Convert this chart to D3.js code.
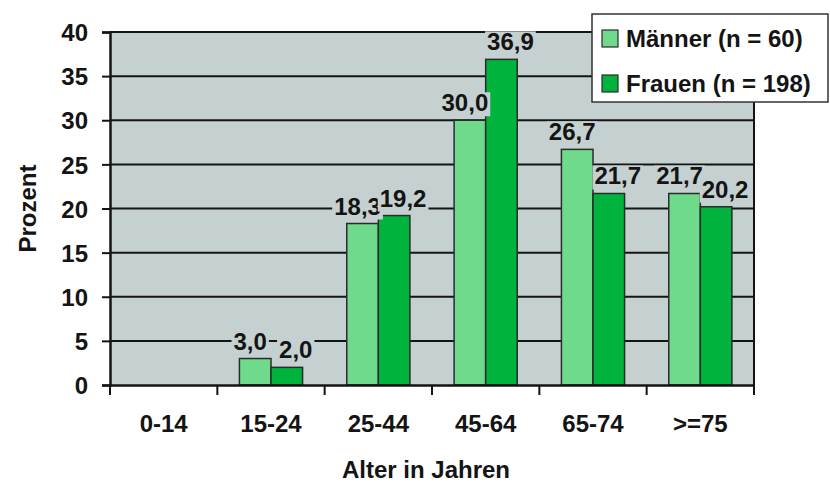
<!DOCTYPE html>
<html>
<head>
<meta charset="utf-8">
<script src="https://cdn.jsdelivr.net/npm/d3@7"></script>
<style>
  html, body { margin: 0; padding: 0; background: #ffffff; }
  svg { display: block; font-family: "Liberation Sans", Arial, sans-serif; font-weight: bold; }
</style>
</head>
<body>
<svg id="chart" width="830" height="484"></svg>
<script>
// Altersverteilung nach Geschlecht (Prozent)
const categories = ["0-14", "15-24", "25-44", "45-64", "65-74", ">=75"];
const maenner = [null, 3.0, 18.3, 30.0, 26.7, 21.7];
const frauen  = [null, 2.0, 19.2, 36.9, 21.7, 20.2];
const seriesNames = ["Männer (n = 60)", "Frauen (n = 198)"];
const yTicks = [0, 5, 10, 15, 20, 25, 30, 35, 40];

const colors = ["#6fda8b", "#00b33c"];
const plotBg = "#c5d1d0";
const ink = "#141414";

const svg = d3.select("#chart");
const m = { left: 110, right: 754, top: 32, bottom: 385 };

const x = d3.scaleBand().domain(categories).range([m.left, m.right]).paddingInner(0).paddingOuter(0);
const inner = d3.scaleBand().domain([0, 1]).range([0, x.bandwidth()]).paddingInner(0).paddingOuter(0.7);
const y = d3.scaleLinear().domain([0, 40]).range([m.bottom, m.top]);

// Plot area
svg.append("rect")
  .attr("x", m.left).attr("y", m.top)
  .attr("width", m.right - m.left).attr("height", m.bottom - m.top)
  .attr("fill", plotBg);

// Horizontal gridlines
svg.append("g").selectAll("line").data(yTicks.filter(d => d > 0)).join("line")
  .attr("x1", m.left).attr("x2", m.right)
  .attr("y1", d => y(d)).attr("y2", d => y(d))
  .attr("stroke", ink).attr("stroke-width", 2);

// Right border
svg.append("line")
  .attr("x1", m.right).attr("x2", m.right).attr("y1", m.top).attr("y2", m.bottom)
  .attr("stroke", ink).attr("stroke-width", 2);

// Bars
const series = [maenner, frauen];
const barData = [];
series.forEach((vals, si) => {
  vals.forEach((v, ci) => {
    if (v != null) barData.push({ cat: categories[ci], value: v, s: si });
  });
});

svg.append("g").selectAll("rect").data(barData).join("rect")
  .attr("x", d => x(d.cat) + inner(d.s))
  .attr("y", d => y(d.value))
  .attr("width", inner.bandwidth())
  .attr("height", d => y(0) - y(d.value))
  .attr("fill", d => colors[d.s])
  .attr("stroke", "#2b2b2b").attr("stroke-width", 1.5);

// Value labels with plot-coloured backing
const fmt = v => v.toFixed(1).replace(".", ",");
const labelShift = [-5, 9];
const lblG = svg.append("g");
barData.forEach(d => {
  const g = lblG.append("g");
  const t = g.append("text")
    .attr("x", x(d.cat) + inner(d.s) + inner.bandwidth() / 2 + labelShift[d.s])
    .attr("y", y(d.value) - 9)
    .attr("text-anchor", "middle")
    .attr("font-size", 24)
    .attr("fill", ink)
    .text(fmt(d.value));
  const bb = t.node().getBBox();
  g.insert("rect", "text")
    .attr("x", bb.x - 2).attr("y", bb.y + 3)
    .attr("width", bb.width + 4).attr("height", bb.height - 3)
    .attr("fill", plotBg);
});

// Y axis
const yAxis = svg.append("g")
  .attr("transform", `translate(${m.left},0)`)
  .call(d3.axisLeft(y).tickValues(yTicks).tickSize(8).tickPadding(14).tickFormat(d3.format("d")));
yAxis.select(".domain").attr("stroke", ink).attr("stroke-width", 2.5);
yAxis.selectAll(".tick line").attr("stroke", ink).attr("stroke-width", 2);
yAxis.selectAll(".tick text")
  .attr("font-size", 24).attr("font-family", "Liberation Sans, Arial, sans-serif")
  .attr("font-weight", "bold").attr("fill", ink).attr("dy", "0.36em");

// X axis
const xAxis = svg.append("g")
  .attr("transform", `translate(0,${m.bottom})`)
  .call(d3.axisBottom(x).tickSize(0).tickPadding(30));
xAxis.select(".domain").attr("stroke", ink).attr("stroke-width", 2.5);
xAxis.selectAll(".tick text")
  .attr("font-size", 24).attr("font-family", "Liberation Sans, Arial, sans-serif")
  .attr("font-weight", "bold").attr("fill", ink);
// Tick marks at category boundaries
const bounds = categories.map(c => x(c)).concat([m.right]);
svg.append("g").selectAll("line").data(bounds).join("line")
  .attr("x1", d => d).attr("x2", d => d)
  .attr("y1", m.bottom).attr("y2", m.bottom + 10)
  .attr("stroke", ink).attr("stroke-width", 2);

// Axis titles
svg.append("text")
  .attr("x", (m.left + m.right) / 2 - 6).attr("y", 478)
  .attr("text-anchor", "middle").attr("font-size", 24).attr("fill", ink)
  .text("Alter in Jahren");
svg.append("text")
  .attr("transform", `translate(36,${(m.top + m.bottom) / 2}) rotate(-90)`)
  .attr("text-anchor", "middle").attr("font-size", 24).attr("fill", ink)
  .text("Prozent");

// Legend
const lg = svg.append("g");
lg.append("rect")
  .attr("x", 592).attr("y", 14).attr("width", 236).attr("height", 88)
  .attr("fill", "#ffffff").attr("stroke", "#333").attr("stroke-width", 1.5);
seriesNames.forEach((name, i) => {
  const yy = 30 + i * 45;
  lg.append("rect")
    .attr("x", 602).attr("y", yy).attr("width", 16).attr("height", 17)
    .attr("fill", colors[i]).attr("stroke", "#2b2b2b").attr("stroke-width", 1.2);
  lg.append("text")
    .attr("x", 626).attr("y", yy + 17)
    .attr("font-size", 24).attr("fill", ink)
    .text(name);
});
</script>
</body>
</html>
